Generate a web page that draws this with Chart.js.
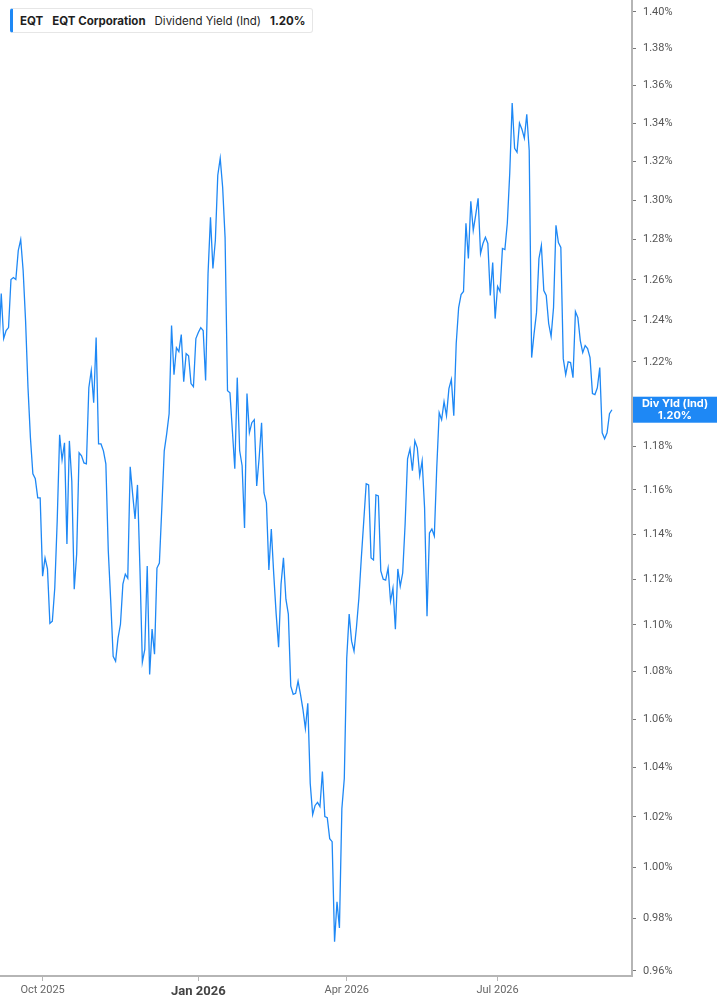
<!DOCTYPE html>
<html>
<head>
<meta charset="utf-8">
<title>EQT Dividend Yield</title>
<script src="https://cdn.jsdelivr.net/npm/chart.js@4.4.1/dist/chart.umd.min.js"></script>
<style>
  html, body { margin: 0; padding: 0; background: #fff; }
  #wrap { position: relative; width: 717px; height: 1005px; }
  #legend {
    position: absolute; left: 10px; top: 8px; height: 23px;
    border: 1px solid #e6e6e6; border-left: 3px solid #1e88f5; border-radius: 3px;
    background: #fff; padding: 0 6px 0 7px; display: flex; align-items: center;
    font: 11.5px Inter, Roboto, sans-serif; color: #1f1f1f; white-space: nowrap;
  }
  #legend span { margin-right: 9px; }
  #legend span:last-child { margin-right: 0; }
  #legend .b { font-weight: 700; }
</style>
</head>
<body>
<div id="wrap">
  <canvas id="myChart"></canvas>
  <div id="legend">
    <span class="b">EQT</span>
    <span class="b">EQT Corporation</span>
    <span>Dividend Yield (Ind)</span>
    <span class="b" id="legendValue"></span>
  </div>
</div>
<script>
// trading days and dividend yield (%)
const dates = [
  '2025-09-05','2025-09-08','2025-09-09','2025-09-10','2025-09-11','2025-09-12','2025-09-15','2025-09-16','2025-09-17','2025-09-18',
  '2025-09-19','2025-09-22','2025-09-23','2025-09-24','2025-09-25','2025-09-26','2025-09-29','2025-09-30',
  '2025-10-01','2025-10-02','2025-10-03','2025-10-06','2025-10-07','2025-10-08','2025-10-09','2025-10-10','2025-10-13','2025-10-14',
  '2025-10-15','2025-10-16','2025-10-17','2025-10-20','2025-10-21','2025-10-22','2025-10-23','2025-10-24','2025-10-27','2025-10-28',
  '2025-10-29','2025-10-30','2025-10-31',
  '2025-11-03','2025-11-04','2025-11-05','2025-11-06','2025-11-07','2025-11-10','2025-11-11','2025-11-12','2025-11-13','2025-11-14',
  '2025-11-17','2025-11-18','2025-11-19','2025-11-20','2025-11-21','2025-11-24','2025-11-25','2025-11-26','2025-11-28',
  '2025-12-01','2025-12-02','2025-12-03','2025-12-04','2025-12-05','2025-12-08','2025-12-09','2025-12-10','2025-12-11','2025-12-12',
  '2025-12-15','2025-12-16','2025-12-17','2025-12-18','2025-12-19','2025-12-22','2025-12-23','2025-12-24','2025-12-26','2025-12-29',
  '2025-12-30','2025-12-31',
  '2026-01-02','2026-01-05','2026-01-06','2026-01-07','2026-01-08','2026-01-09','2026-01-12','2026-01-13','2026-01-14','2026-01-15',
  '2026-01-16','2026-01-20','2026-01-21','2026-01-22','2026-01-23','2026-01-26','2026-01-27','2026-01-28','2026-01-29','2026-01-30',
  '2026-02-02','2026-02-03','2026-02-04','2026-02-05','2026-02-06','2026-02-09','2026-02-10','2026-02-11','2026-02-12','2026-02-13',
  '2026-02-17','2026-02-18','2026-02-19','2026-02-20','2026-02-23','2026-02-24','2026-02-25','2026-02-26','2026-02-27',
  '2026-03-02','2026-03-03','2026-03-04','2026-03-05','2026-03-06','2026-03-09','2026-03-10','2026-03-11','2026-03-12','2026-03-13',
  '2026-03-16','2026-03-17','2026-03-18','2026-03-19','2026-03-20','2026-03-23','2026-03-24','2026-03-25','2026-03-26','2026-03-27',
  '2026-03-30','2026-03-31',
  '2026-04-01','2026-04-02','2026-04-06','2026-04-07','2026-04-08','2026-04-09','2026-04-10','2026-04-13','2026-04-14','2026-04-15',
  '2026-04-16','2026-04-17','2026-04-20','2026-04-21','2026-04-22','2026-04-23','2026-04-24','2026-04-27','2026-04-28','2026-04-29',
  '2026-04-30',
  '2026-05-01','2026-05-04','2026-05-05','2026-05-06','2026-05-07','2026-05-08','2026-05-11','2026-05-12','2026-05-13','2026-05-14',
  '2026-05-15','2026-05-18','2026-05-19','2026-05-20','2026-05-21','2026-05-22','2026-05-26','2026-05-27','2026-05-28','2026-05-29',
  '2026-06-01','2026-06-02','2026-06-03','2026-06-04','2026-06-05','2026-06-08','2026-06-09','2026-06-10','2026-06-11','2026-06-12',
  '2026-06-15','2026-06-16','2026-06-17','2026-06-18','2026-06-22','2026-06-23','2026-06-24','2026-06-25','2026-06-26','2026-06-29',
  '2026-06-30',
  '2026-07-01','2026-07-02','2026-07-06','2026-07-07','2026-07-08','2026-07-09','2026-07-10','2026-07-13','2026-07-14','2026-07-15',
  '2026-07-16','2026-07-17','2026-07-20','2026-07-21','2026-07-22','2026-07-23','2026-07-24','2026-07-27','2026-07-28','2026-07-29',
  '2026-07-30','2026-07-31',
  '2026-08-03','2026-08-04','2026-08-05','2026-08-06','2026-08-07','2026-08-10','2026-08-11','2026-08-12','2026-08-13','2026-08-14',
  '2026-08-17','2026-08-18','2026-08-19','2026-08-20','2026-08-21','2026-08-24','2026-08-25','2026-08-26','2026-08-27','2026-08-28',
  '2026-08-31',
  '2026-09-01','2026-09-02','2026-09-03','2026-09-04','2026-09-08'
];
const divYield = [
  1.2268,1.2532,1.2312,1.2351,1.2365,1.2601,1.2611,1.2601,1.2746,1.2801,
  1.2646,1.2399,1.2076,1.1840,1.1674,1.1651,1.1564,1.1564,1.1213,1.1294,
  1.1245,1.1007,1.1016,1.1161,1.1459,1.1854,1.1738,1.1817,1.1356,1.1826,
  1.1641,1.1156,1.1311,1.1771,1.1757,1.1724,1.1720,1.2076,1.2158,1.2005,
  1.2317,1.1812,1.1812,1.1780,1.1720,1.1325,1.1104,1.0865,1.0844,1.0943,
  1.1003,1.1178,1.1222,1.1204,1.1706,1.1582,1.1468,1.1623,1.1249,1.0840,
  1.0895,1.1258,1.0788,1.0982,1.0874,1.1249,1.1271,1.1518,1.1780,1.1859,
  1.1953,1.2375,1.2138,1.2268,1.2249,1.2331,1.2105,1.2239,1.2229,1.2096,
  1.2081,1.2312,1.2341,1.2365,1.2351,1.2110,1.2631,1.2913,1.2656,1.2796,
  1.3129,1.3217,1.3067,1.2812,1.2062,1.2052,1.1873,1.1697,1.2124,1.1780,
  1.1711,1.1428,1.2048,1.1864,1.1911,1.1925,1.1618,1.1747,1.1911,1.1586,
  1.1541,1.1240,1.1423,1.1222,1.1047,1.0904,1.1178,1.1294,1.1112,1.1047,
  1.0738,1.0704,1.0708,1.0759,1.0704,1.0641,1.0561,1.0666,1.0335,1.0209,
  1.0246,1.0258,1.0241,1.0384,1.0201,1.0197,1.0113,1.0101,0.9711,0.9865,
  0.9764,1.0233,1.0355,1.0857,1.1047,1.0930,1.0887,1.0990,1.1117,1.1294,
  1.1459,1.1628,1.1623,1.1294,1.1285,1.1577,1.1573,1.1236,1.1200,1.1196,
  1.1249,1.1104,1.1161,1.0982,1.1245,1.1169,1.1227,1.1446,1.1743,1.1789,
  1.1688,1.1826,1.1794,1.1665,1.1734,1.1518,1.1038,1.1405,1.1423,1.1392,
  1.1701,1.1958,1.1925,1.2010,1.1944,1.2072,1.2115,1.1944,1.2288,1.2463,
  1.2527,1.2542,1.2883,1.2706,1.2995,1.2847,1.2924,1.3010,1.2731,1.2781,
  1.2812,1.2781,1.2522,1.2686,1.2409,1.2567,1.2542,1.2756,1.2751,1.2883,
  1.3139,1.3507,1.3269,1.3248,1.3401,1.3369,1.3322,1.3448,1.3259,1.2220,
  1.2336,1.2438,1.2706,1.2771,1.2547,1.2522,1.2385,1.2322,1.2463,1.2873,
  1.2786,1.2761,1.2215,1.2138,1.2200,1.2196,1.2124,1.2443,1.2414,1.2302,
  1.2244,1.2278,1.2263,1.2220,1.2048,1.2043,1.2076,1.2172,1.1864,1.1836,
  1.1864,1.1953,1.1972
];
const xTickDates = ['2025-10-01', '2026-01-02', '2026-04-01', '2026-07-01'];
const xTickLabels = ['Oct 2025', 'Jan 2026', 'Apr 2026', 'Jul 2026'];
const yTicks = [0.96, 0.98, 1.00, 1.02, 1.04, 1.06, 1.08, 1.10, 1.12, 1.14, 1.16,
  1.18, 1.20, 1.22, 1.24, 1.26, 1.28, 1.30, 1.32, 1.34, 1.36, 1.38, 1.40];

const lineColor = '#1e88f5';
const lastValue = divYield[divYield.length - 1];

document.getElementById('legendValue').textContent = lastValue.toFixed(2) + '%';

// last value tag on the right axis
const valueTag = {
  id: 'valueTag',
  afterDraw(chart) {
    const c = chart.ctx;
    const area = chart.chartArea;
    const y = chart.scales.y.getPixelForValue(lastValue);
    const x0 = area.right + 1;
    const w = chart.width - x0;
    c.save();
    c.fillStyle = lineColor;
    c.fillRect(x0, y - 13, w, 26);
    c.fillStyle = '#fff';
    c.font = 'bold 11px Inter, Roboto, sans-serif';
    c.textAlign = 'center';
    c.textBaseline = 'middle';
    c.fillText('Div Yld (Ind)', x0 + w / 2, y - 6);
    c.fillText(lastValue.toFixed(2) + '%', x0 + w / 2, y + 6);
    c.restore();
  }
};

const ctx = document.getElementById('myChart');
const chart = new Chart(ctx, {
  type: 'line',
  data: {
    datasets: [{
      label: 'Dividend Yield (Ind)',
      // x is the trading-day index
      data: divYield.map((v, i) => ({ x: i, y: v })),
      borderColor: lineColor,
      borderWidth: 1.3,
      pointRadius: 0,
      tension: 0
    }]
  },
  options: {
    responsive: true,
    maintainAspectRatio: false,
    animation: false,
    layout: { padding: 0 },
    plugins: {
      legend: { display: false },
      tooltip: { enabled: false }
    },
    scales: {
      x: {
        type: 'linear',
        min: 0.49,
        max: 260.25,
        afterBuildTicks: (scale) => {
          scale.ticks = xTickDates.map(d => ({ value: dates.indexOf(d) }));
        },
        afterFit: (scale) => { scale.height = 29; },
        grid: { drawOnChartArea: false, tickLength: 5, tickColor: '#b5b5b5' },
        border: { color: '#b5b5b5', width: 2 },
        ticks: {
          autoSkip: false,
          maxRotation: 0,
          padding: 3,
          callback: (v, i) => xTickLabels[i],
          color: (c) => c.index === 1 ? '#444' : '#666',
          font: (c) => c.index === 1
            ? { family: 'Roboto, sans-serif', size: 13, weight: 'bold' }
            : { family: 'Roboto, sans-serif', size: 11 }
        }
      },
      y: {
        type: 'logarithmic',
        position: 'right',
        min: 0.9581,
        max: 1.4066,
        afterBuildTicks: (scale) => {
          scale.ticks = yTicks.map(v => ({ value: v }));
        },
        afterFit: (scale) => {
          scale.width = 85;
          scale.paddingTop = 0;
          scale.paddingBottom = 0;
        },
        grid: { drawOnChartArea: false, tickLength: 4, tickColor: '#777' },
        border: { color: '#b5b5b5', width: 2 },
        ticks: {
          padding: 7,
          color: '#555',
          font: { family: 'Roboto, sans-serif', size: 11 },
          callback: (v) => Number(v).toFixed(2) + '%'
        }
      }
    }
  },
  plugins: [valueTag]
});
</script>
</body>
</html>
